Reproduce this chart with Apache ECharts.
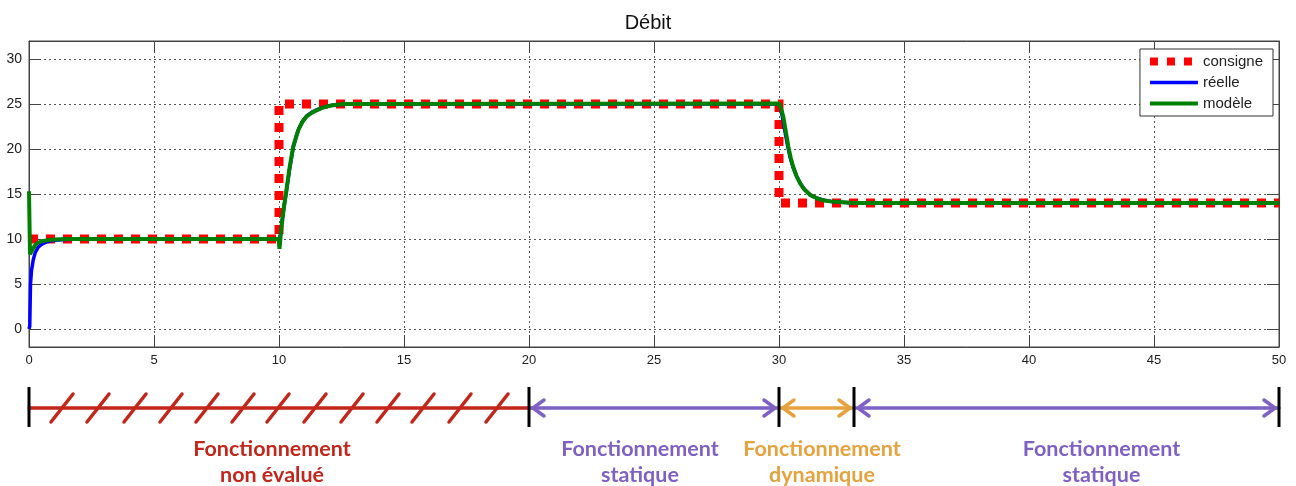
<!DOCTYPE html>
<html><head><meta charset="utf-8">
<script src="https://cdn.jsdelivr.net/npm/echarts@6/dist/echarts.min.js"></script>
<style>html,body{margin:0;padding:0;background:#fff}#c{width:1296px;height:486px}</style>
</head><body><div id="c"></div>
<script>
// ---- data ----
const consigneT = [0, 10, 10, 30, 30, 50];
const consigneV = [10, 10, 25, 25, 14, 14];

const reelleT = [0, 0.03, 0.06, 0.1, 0.17, 0.25, 0.37, 0.5, 0.71, 1.0, 1.5, 2.0, 10.0, 10.05, 10.12, 10.2, 10.3, 10.42, 10.57, 10.7, 10.8, 10.95, 11.12, 11.32, 11.55, 11.8, 12.1, 12.6, 13.0, 30.0, 30.06, 30.14, 30.24, 30.35, 30.45, 30.56, 30.7, 30.85, 31.02, 31.25, 31.5, 31.8, 32.1, 32.5, 33.0, 50];
const reelleV = [0, 0.3, 5.0, 6.5, 7.7, 8.5, 9.1, 9.4, 9.7, 9.85, 9.95, 10.0, 10.0, 10.4, 11.9, 13.6, 15.4, 17.7, 20.2, 21.5, 22.3, 23.1, 23.7, 24.1, 24.4, 24.65, 24.85, 24.97, 25.0, 25.0, 24.6, 23.5, 21.9, 20.3, 19.0, 18.0, 17.0, 16.2, 15.5, 14.9, 14.55, 14.3, 14.17, 14.08, 14.0, 14.0];

const modeleT = [0, 0.04, 0.15, 0.3, 0.5, 0.7, 1.0, 1.5, 9.98, 10.02, 10.1, 10.2, 10.28, 10.41, 10.57, 10.68, 10.77, 10.93, 11.1, 11.3, 11.5, 11.75, 12.04, 12.3, 12.6, 30.0, 30.08, 30.17, 30.27, 30.37, 30.47, 30.57, 30.7, 30.84, 31.0, 31.24, 31.5, 31.76, 32.05, 32.4, 33.0, 50];
const modeleV = [15.3, 8.3, 8.9, 9.5, 9.75, 9.85, 9.95, 10.0, 10.0, 8.9, 11.4, 13.6, 15.1, 17.7, 20.3, 21.3, 22.1, 23.0, 23.6, 24.0, 24.3, 24.6, 24.8, 24.92, 25.0, 25.05, 24.5, 23.6, 22.0, 20.3, 19.0, 18.0, 17.0, 16.2, 15.55, 14.9, 14.55, 14.3, 14.18, 14.1, 14.0, 14.0];

const yTicks = [0, 5, 10, 15, 20, 25, 30];

// annotation strip under the chart
const boundaries = [0, 20, 30, 33, 50];
const segFrom = [0, 20, 30, 33];
const segTo = [20, 30, 33, 50];
const segKind = ['hatch', 'static', 'dynamic', 'static'];
const hatchX = [1.32, 2.76, 4.24, 5.68, 7.12, 8.56, 9.96, 11.44, 12.92, 14.36, 15.76, 17.24, 18.72];
const labelX = [9.72, 24.44, 31.72, 42.9];
const labelKind = ['hatch', 'static', 'dynamic', 'static'];
const labelText = ['Fonctionnement\nnon évalué', 'Fonctionnement\nstatique', 'Fonctionnement\ndynamique', 'Fonctionnement\nstatique'];

// ---- styles ----
const kindColor = { hatch: '#c3261a', static: '#7f60c4', dynamic: '#e6a23c' };
const LINE_Y = 28, BAR_TOP = 7, BAR_BOT = 47, TEXT_Y = 82;
const zip = (a, b) => a.map((v, i) => [v, b[i]]);

const chart = echarts.init(document.getElementById('c'), null, { renderer: 'canvas' });
const axisCol = '#444';
const gridLine = { show: true, lineStyle: { color: '#555', type: [2, 3], width: 1 } };

chart.setOption({
  animation: false,
  backgroundColor: '#fff',
  title: { text: 'Débit', left: 'center', top: 8, textStyle: { fontFamily: 'Liberation Sans', fontSize: 20, fontWeight: 'normal', color: '#111' } },
  legend: {
    data: [
      { name: 'consigne', lineStyle: { width: 8, type: [8, 9], cap: 'butt' } },
      { name: 'réelle', lineStyle: { width: 3.5 } },
      { name: 'modèle', lineStyle: { width: 4 } }
    ],
    orient: 'vertical', right: 23, top: 49,
    backgroundColor: '#fff', borderColor: '#333', borderWidth: 1, padding: [5, 10, 5, 6],
    itemWidth: 48, itemHeight: 12, itemGap: 6,
    itemStyle: { opacity: 0 },
    textStyle: { fontFamily: 'Liberation Sans', fontSize: 15, color: '#222' }
  },
  grid: [
    { left: 29, top: 41, width: 1250, height: 306, show: true, borderColor: axisCol, borderWidth: 1 },
    { left: 29, top: 380, width: 1250, height: 100 }
  ],
  xAxis: [
    { gridIndex: 0, type: 'value', min: 0, max: 50, interval: 5,
      axisLine: { show: true, onZero: false, lineStyle: { color: axisCol } },
      axisTick: { show: true, inside: true, length: 12, lineStyle: { color: axisCol } },
      axisLabel: { margin: 7, fontFamily: 'Liberation Sans', fontSize: 13, color: '#222' },
      splitLine: gridLine },
    { gridIndex: 0, type: 'value', min: 0, max: 50, interval: 5, position: 'top',
      axisLine: { show: true, onZero: false, lineStyle: { color: axisCol } },
      axisTick: { show: true, inside: true, length: 12, lineStyle: { color: axisCol } },
      axisLabel: { show: false }, splitLine: { show: false } },
    { gridIndex: 1, type: 'value', min: 0, max: 50, show: false }
  ],
  yAxis: [
    { gridIndex: 0, type: 'value', min: -2, max: 32,
      axisLine: { show: true, onZero: false, lineStyle: { color: axisCol } },
      axisTick: { show: true, inside: true, length: 12, customValues: yTicks, lineStyle: { color: axisCol } },
      axisLabel: { margin: 7, customValues: yTicks, fontFamily: 'Liberation Sans', fontSize: 14, color: '#222' },
      splitLine: gridLine },
    { gridIndex: 0, type: 'value', min: -2, max: 32, position: 'right',
      axisLine: { show: true, onZero: false, lineStyle: { color: axisCol } },
      axisTick: { show: true, inside: true, length: 12, customValues: yTicks, lineStyle: { color: axisCol } },
      axisLabel: { show: false, customValues: yTicks }, splitLine: { show: false } },
    { gridIndex: 1, type: 'value', min: 0, max: 100, inverse: true, show: false }
  ],
  series: [
    { name: 'consigne', type: 'line', xAxisIndex: 0, yAxisIndex: 0, data: zip(consigneT, consigneV), symbol: 'none',
      itemStyle: { color: '#ff0000' },
      lineStyle: { color: '#ff0000', width: 9, type: [9, 8], cap: 'butt', join: 'miter' } },
    { name: 'réelle', type: 'line', xAxisIndex: 0, yAxisIndex: 0, data: zip(reelleT, reelleV), symbol: 'none',
      itemStyle: { color: '#0000ff' },
      lineStyle: { color: '#0000ff', width: 3.5 } },
    { name: 'modèle', type: 'line', xAxisIndex: 0, yAxisIndex: 0, data: zip(modeleT, modeleV), symbol: 'none',
      itemStyle: { color: '#008000' },
      lineStyle: { color: '#008000', width: 4 } },
    // segments with arrows
    { type: 'custom', xAxisIndex: 2, yAxisIndex: 2, silent: true,
      data: segFrom.map((f, i) => [f, segTo[i], i]),
      renderItem: function (params, api) {
        const i = api.value(2);
        const kind = segKind[i];
        const col = kindColor[kind];
        const p0 = api.coord([api.value(0), LINE_Y]);
        const p1 = api.coord([api.value(1), LINE_Y]);
        const st = { stroke: col, lineWidth: 3.5, fill: null, lineCap: 'round', lineJoin: 'round' };
        const ch = [{ type: 'line', shape: { x1: p0[0], y1: p0[1], x2: p1[0], y2: p1[1] }, style: st }];
        if (kind !== 'hatch') {
          const a0 = p0[0] + 4, a1 = p1[0] - 4;
          ch.push({ type: 'polyline', shape: { points: [[a0 + 11, p0[1] - 8], [a0, p0[1]], [a0 + 11, p0[1] + 8]] }, style: st });
          ch.push({ type: 'polyline', shape: { points: [[a1 - 11, p1[1] - 8], [a1, p1[1]], [a1 - 11, p1[1] + 8]] }, style: st });
        }
        return { type: 'group', children: ch };
      } },
    // hatch slashes
    { type: 'custom', xAxisIndex: 2, yAxisIndex: 2, silent: true,
      data: hatchX.map(x => [x]),
      renderItem: function (params, api) {
        const p = api.coord([api.value(0), LINE_Y]);
        return { type: 'line', shape: { x1: p[0] - 11, y1: p[1] + 14, x2: p[0] + 11, y2: p[1] - 14 },
          style: { stroke: kindColor.hatch, lineWidth: 3.5, lineCap: 'round' } };
      } },
    // boundary bars
    { type: 'custom', xAxisIndex: 2, yAxisIndex: 2, silent: true,
      data: boundaries.map(x => [x]),
      renderItem: function (params, api) {
        const a = api.coord([api.value(0), BAR_TOP]);
        const b = api.coord([api.value(0), BAR_BOT]);
        return { type: 'line', shape: { x1: a[0], y1: a[1], x2: b[0], y2: b[1] },
          style: { stroke: '#000', lineWidth: 3 } };
      } },
    // labels
    { type: 'custom', xAxisIndex: 2, yAxisIndex: 2, silent: true,
      data: labelX.map((x, i) => [x, i]),
      renderItem: function (params, api) {
        const i = api.value(1);
        const p = api.coord([api.value(0), TEXT_Y]);
        return { type: 'text', x: p[0], y: p[1],
          style: { text: labelText[i], fill: kindColor[labelKind[i]], align: 'center', verticalAlign: 'middle',
            font: 'bold 21.5px Lato', lineHeight: 26 } };
      } }
  ]
});
</script></body></html>
